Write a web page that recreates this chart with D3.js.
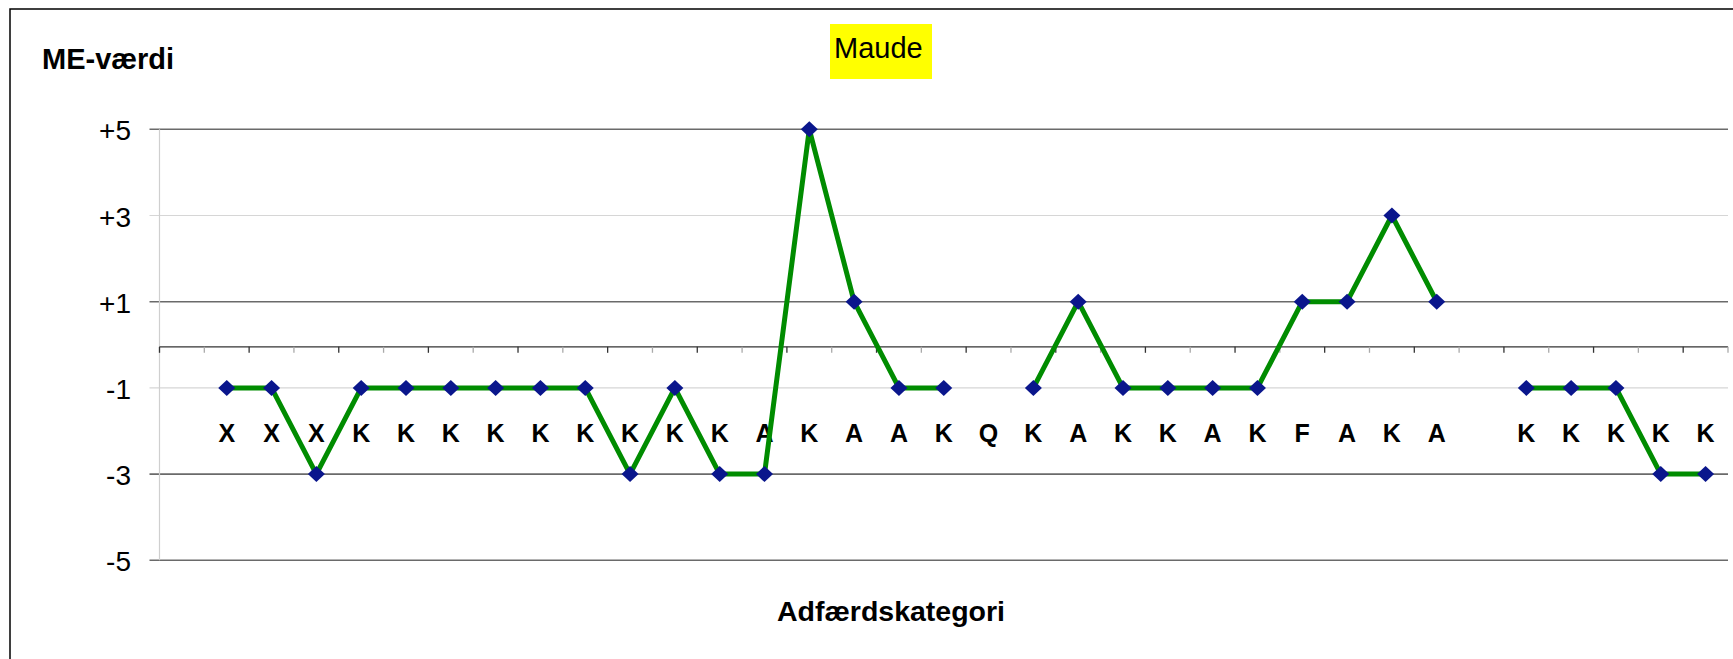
<!DOCTYPE html>
<html>
	<head>
		<meta charset="utf-8">
		<script src="https://cdn.jsdelivr.net/npm/d3@7"></script>
		<style>
			body { margin: 0; background: #fff; }
			text { font-family: Arial, "Liberation Sans", sans-serif; }
		</style>
	</head>

	<body>
		<script>

			// one slot per category, first and 30th are empty in the original
			var categories = ["", "X", "X", "X", "K", "K", "K", "K", "K", "K", "K", "K", "K", "A", "K", "A", "A", "K", "Q",
				"K", "A", "K", "K", "A", "K", "F", "A", "K", "A", "", "K", "K", "K", "K", "K"];
			var values = [null, -1, -1, -3, -1, -1, -1, -1, -1, -1, -3, -1, -3, -3, 5, 1, -1, -1, null,
				-1, 1, -1, -1, -1, -1, 1, 1, 3, 1, null, -1, -1, -1, -3, -3];

			var tick_values = [5, 3, 1, -1, -3, -5];
			var tick_labels = ["+5", "+3", "+1", "-1", "-3", "-5"];
			var dark_grid = [5, 1, -3, -5];
			var light_grid = [3, -1];

			var title = "Maude";
			var y_title = "ME-værdi";
			var x_title = "Adfærdskategori";

			var width = 1733;
			var height = 659;

			var svg = d3.select('body').append('svg')
				.attr('width', width)
				.attr('height', height);

			svg.append('rect')
				.attr('width', width)
				.attr('height', height)
				.attr('fill', '#fff');

			// chart frame (only top and left edges are inside the picture)
			svg.append('path')
				.attr('d', 'M10,' + height + 'V9H' + width)
				.attr('fill', 'none')
				.attr('stroke', '#000')
				.attr('stroke-width', 1.5);

			var left = 159.5, right = 1728;

			var x = d3.scaleBand()
				.domain(d3.range(categories.length))
				.range([left, right]);

			var y = d3.scaleLinear()
				.domain([-5, 5])
				.range([560.3, 129.3]);

			// gridlines
			svg.selectAll('.light-grid')
				.data(light_grid)
				.enter()
				.append('line')
				.attr('x1', left - 10)
				.attr('x2', right)
				.attr('y1', function (d) { return y(d); })
				.attr('y2', function (d) { return y(d); })
				.attr('stroke', '#d6d6d6')
				.attr('stroke-width', 1.2);

			svg.selectAll('.dark-grid')
				.data(dark_grid)
				.enter()
				.append('line')
				.attr('x1', left - 10)
				.attr('x2', right)
				.attr('y1', function (d) { return y(d); })
				.attr('y2', function (d) { return y(d); })
				.attr('stroke', '#6a6a6a')
				.attr('stroke-width', 1.6);

			// value axis line
			svg.append('line')
				.attr('x1', left)
				.attr('x2', left)
				.attr('y1', y(5))
				.attr('y2', y(-5))
				.attr('stroke', '#cfcfcf')
				.attr('stroke-width', 1.2);

			svg.selectAll('.ytick')
				.data(tick_values)
				.enter()
				.append('text')
				.attr('x', 131)
				.attr('y', function (d) { return y(d) + 11; })
				.attr('text-anchor', 'end')
				.attr('font-size', 28)
				.attr('fill', '#000')
				.text(function (d, i) { return tick_labels[i]; });

			// category axis at zero with tick marks between categories
			var y0 = y(0) + 2;
			svg.append('line')
				.attr('x1', left)
				.attr('x2', right)
				.attr('y1', y0)
				.attr('y2', y0)
				.attr('stroke', '#333')
				.attr('stroke-width', 1.3);

			var boundaries = x.domain().map(function (d) { return x(d); }).concat([right]);
			svg.selectAll('.xtick')
				.data(boundaries)
				.enter()
				.append('line')
				.attr('x1', function (d) { return d; })
				.attr('x2', function (d) { return d; })
				.attr('y1', y0)
				.attr('y2', y0 + 6)
				.attr('stroke', function (d, i) { return i % 2 ? '#aaa' : '#333'; })
				.attr('stroke-width', 1.3);

			svg.selectAll('.cat')
				.data(categories)
				.enter()
				.append('text')
				.attr('x', function (d, i) { return x(i) + x.bandwidth() / 2; })
				.attr('y', y(-2) + 10.5)
				.attr('text-anchor', 'middle')
				.attr('font-size', 25)
				.attr('font-weight', 'bold')
				.attr('fill', '#000')
				.text(function (d) { return d; });

			// series
			var line = d3.line()
				.defined(function (d) { return d != null; })
				.x(function (d, i) { return x(i) + x.bandwidth() / 2; })
				.y(function (d) { return y(d); });

			svg.append('path')
				.datum(values)
				.attr('d', line)
				.attr('fill', 'none')
				.attr('stroke', '#008c00')
				.attr('stroke-width', 5)
				.attr('stroke-linejoin', 'round');

			var pts = values.map(function (d, i) { return {i: i, v: d}; })
				.filter(function (d) { return d.v != null; });

			svg.selectAll('.pt')
				.data(pts)
				.enter()
				.append('path')
				.attr('d', 'M0,-8L8.5,0L0,8L-8.5,0Z')
				.attr('transform', function (d) {
					return 'translate(' + (x(d.i) + x.bandwidth() / 2) + ',' + y(d.v) + ')';
				})
				.attr('fill', '#0a168c');

			// titles
			svg.append('text')
				.attr('x', 42)
				.attr('y', 69)
				.attr('font-size', 29)
				.attr('font-weight', 'bold')
				.text(y_title);

			svg.append('text')
				.attr('x', 891)
				.attr('y', 621)
				.attr('text-anchor', 'middle')
				.attr('font-size', 28.5)
				.attr('font-weight', 'bold')
				.text(x_title);

			svg.append('rect')
				.attr('x', 830)
				.attr('y', 24)
				.attr('width', 102)
				.attr('height', 55)
				.attr('fill', '#ffff00');

			svg.append('text')
				.attr('x', 834)
				.attr('y', 58)
				.attr('font-size', 29)
				.text(title);

		</script>
	</body>
</html>
